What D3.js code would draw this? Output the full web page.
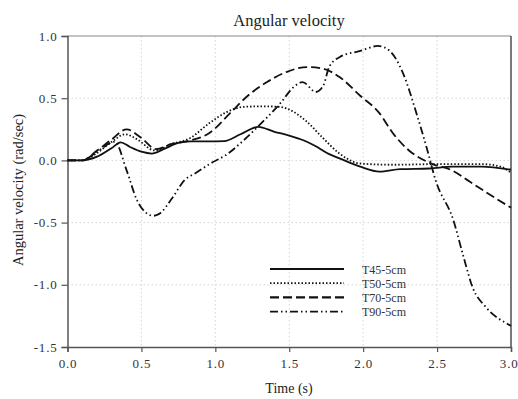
<!DOCTYPE html>
<html>
<head>
<meta charset="utf-8">
<script src="https://cdn.jsdelivr.net/npm/d3@7"></script>
<style>
  body { margin: 0; background: #fff; }
  svg { font-family: "Liberation Serif", "Times New Roman", serif; }
</style>
</head>
<body>
<svg id="chart" width="518" height="399"></svg>
<script>
// series values: [time (s), angular velocity (rad/sec)]
const t45 = [[0, 0], [0.1, 0], [0.2, 0.03], [0.3, 0.1], [0.36, 0.145], [0.42, 0.11], [0.5, 0.07],
  [0.57, 0.055], [0.65, 0.09], [0.75, 0.14], [0.83, 0.153], [0.95, 0.153], [1.06, 0.155],
  [1.17, 0.21], [1.29, 0.27], [1.4, 0.23], [1.5, 0.2], [1.6, 0.16], [1.67, 0.12], [1.77, 0.05],
  [1.84, 0.016], [1.98, -0.05], [2.11, -0.09], [2.25, -0.07], [2.45, -0.065], [2.6, -0.05],
  [2.8, -0.05], [3.0, -0.075]];
const t50 = [[0, 0], [0.1, 0], [0.2, 0.06], [0.3, 0.15], [0.39, 0.21], [0.47, 0.17], [0.59, 0.08],
  [0.7, 0.13], [0.83, 0.18], [0.96, 0.3], [1.08, 0.39], [1.19, 0.43], [1.32, 0.435], [1.44, 0.43],
  [1.53, 0.39], [1.62, 0.31], [1.72, 0.19], [1.84, 0.055], [1.98, -0.025], [2.2, -0.035],
  [2.5, -0.03], [2.8, -0.03], [2.93, -0.05], [3.0, -0.1]];
const t70 = [[0, 0], [0.1, 0], [0.2, 0.08], [0.3, 0.17], [0.4, 0.25], [0.5, 0.18], [0.6, 0.09],
  [0.7, 0.13], [0.83, 0.16], [0.96, 0.22], [1.1, 0.38], [1.21, 0.51], [1.35, 0.63], [1.48, 0.71],
  [1.62, 0.75], [1.72, 0.74], [1.84, 0.67], [1.98, 0.52], [2.11, 0.38], [2.2, 0.22], [2.31, 0.08],
  [2.47, -0.03], [2.6, -0.08], [2.72, -0.17], [2.85, -0.27], [3.0, -0.38]];
const t90 = [[0, 0], [0.1, 0], [0.2, 0.07], [0.32, 0.15], [0.4, -0.08], [0.47, -0.32], [0.53, -0.42],
  [0.58, -0.445], [0.62, -0.43], [0.71, -0.3], [0.79, -0.16], [0.87, -0.1], [0.96, -0.03],
  [1.08, 0.05], [1.19, 0.16], [1.32, 0.31], [1.44, 0.46], [1.53, 0.59], [1.59, 0.63], [1.68, 0.55],
  [1.73, 0.6], [1.77, 0.75], [1.84, 0.83], [1.98, 0.88], [2.1, 0.92], [2.18, 0.88], [2.27, 0.7],
  [2.36, 0.38], [2.43, 0.1], [2.49, -0.16], [2.61, -0.48], [2.68, -0.78], [2.74, -1.02],
  [2.83, -1.18], [2.97, -1.31], [3.0, -1.33]];

const seriesNames = ['T45-5cm', 'T50-5cm', 'T70-5cm', 'T90-5cm'];
const seriesData = [t45, t50, t70, t90];
const dashes = ['none', '1.5,2', '9,4', '8,3,1.5,3,1.5,3'];

const xTicks = [0, 0.5, 1, 1.5, 2, 2.5, 3];
const yTicks = [1, 0.5, 0, -0.5, -1, -1.5];

const svg = d3.select('#chart');
const margin = { left: 67.5, right: 511, top: 36, bottom: 347 };

const x = d3.scaleLinear().domain([0, 3]).range([margin.left, margin.right]);
const y = d3.scaleLinear().domain([-1.5, 1]).range([margin.bottom, margin.top]);
const fmt = d => d.toFixed(1); // plain hyphen minus like the original

// grid
const grid = svg.append('g').attr('class', 'grid')
  .attr('stroke', '#d4d4d4').attr('stroke-dasharray', '1.5,2.5').attr('stroke-width', 1);
xTicks.slice(1, -1).forEach(v => {
  grid.append('line').attr('x1', x(v)).attr('x2', x(v)).attr('y1', y(1)).attr('y2', y(-1.5));
});
yTicks.slice(1, -1).forEach(v => {
  grid.append('line').attr('x1', x(0)).attr('x2', x(3)).attr('y1', y(v)).attr('y2', y(v));
});

// frame: top and right
svg.append('line').attr('x1', x(0)).attr('x2', x(3)).attr('y1', y(1)).attr('y2', y(1))
  .attr('stroke', '#888').attr('stroke-width', 1.2);
svg.append('line').attr('x1', x(3)).attr('x2', x(3)).attr('y1', y(1)).attr('y2', y(-1.5))
  .attr('stroke', '#222').attr('stroke-width', 1.2);

// axes
const xAxis = svg.append('g')
  .attr('transform', `translate(0,${margin.bottom})`)
  .call(d3.axisBottom(x).tickValues(xTicks).tickFormat(fmt).tickSizeOuter(0).tickSize(5));
const yAxis = svg.append('g')
  .attr('transform', `translate(${margin.left},0)`)
  .call(d3.axisLeft(y).tickValues(yTicks).tickFormat(fmt).tickSizeOuter(0).tickSize(6));

[xAxis, yAxis].forEach(ax => {
  ax.select('.domain').attr('stroke', '#555').attr('stroke-width', 1.5);
  ax.selectAll('.tick line').attr('stroke', '#555').attr('stroke-width', 1.2);
  ax.selectAll('.tick text').attr('fill', '#333')
    .style('font-family', '"Liberation Serif", serif').style('font-size', '13px')
    .style('letter-spacing', '0.8px');
});
xAxis.selectAll('.tick text').attr('dy', '1.15em').attr('y', 6);
// last label sits against the page edge, keep it inside
xAxis.selectAll('.tick text').filter(d => d === 3)
  .attr('text-anchor', 'end').attr('x', 7);
yAxis.selectAll('.tick text').attr('x', -10);

// lines
const line = d3.line().x(d => x(d[0])).y(d => y(d[1])).curve(d3.curveMonotoneX);
svg.append('g').selectAll('path')
  .data(seriesData)
  .join('path')
  .attr('d', line)
  .attr('fill', 'none')
  .attr('stroke', '#111')
  .attr('stroke-width', 1.8)
  .attr('stroke-dasharray', (d, i) => dashes[i]);

// legend
const legend = svg.append('g').attr('transform', 'translate(270,269)');
seriesNames.forEach((name, i) => {
  const row = legend.append('g').attr('transform', `translate(0,${i * 14.2})`);
  row.append('line').attr('x1', 0).attr('x2', 74).attr('y1', 0).attr('y2', 0)
    .attr('stroke', '#111').attr('stroke-width', i === 2 ? 2.2 : 1.8)
    .attr('stroke-dasharray', dashes[i]);
  row.append('text').attr('x', 92).attr('y', 4.5).text(name)
    .attr('fill', '#333').style('font-size', '12px');
});

// titles
svg.append('text').attr('x', 289).attr('y', 26).attr('text-anchor', 'middle')
  .style('font-size', '16.5px').attr('fill', '#222').text('Angular velocity');
svg.append('text').attr('x', 289).attr('y', 393).attr('text-anchor', 'middle')
  .style('font-size', '14px').attr('fill', '#222').text('Time (s)');
svg.append('text')
  .attr('transform', 'translate(23,190) rotate(-90)')
  .attr('text-anchor', 'middle')
  .style('font-size', '14.5px').attr('fill', '#222').text('Angular velocity (rad/sec)');
</script>
</body>
</html>
